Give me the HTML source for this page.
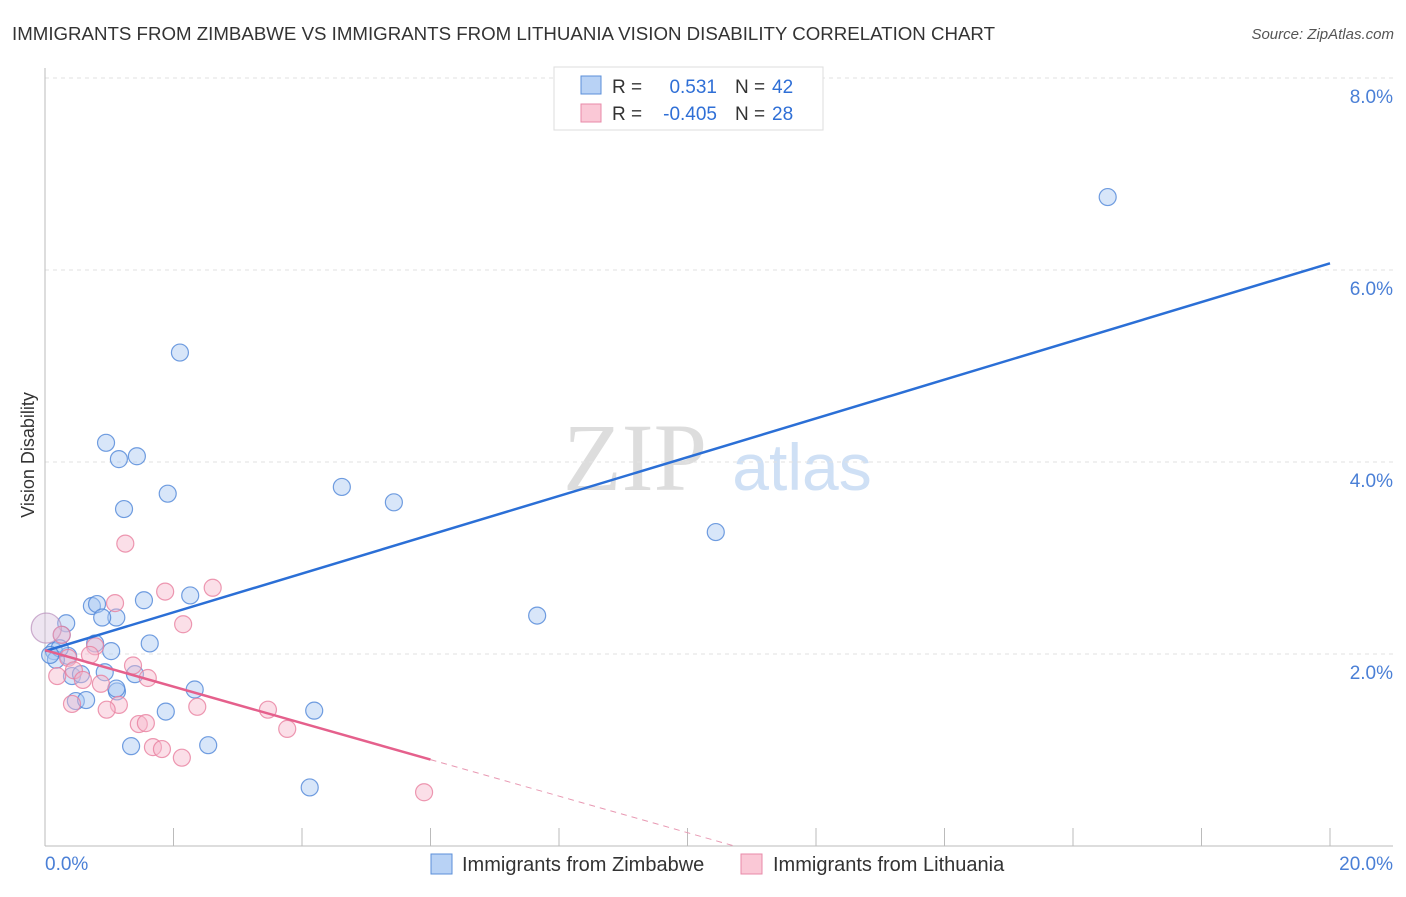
<!DOCTYPE html>
<html><head><meta charset="utf-8"><style>
body{margin:0;background:#fff;font-family:"Liberation Sans",sans-serif}
svg text{font-family:"Liberation Sans",sans-serif}
</style></head><body>
<svg id="c" width="1406" height="892">
<text x="12" y="40" font-size="18" fill="#333" textLength="983" lengthAdjust="spacingAndGlyphs">IMMIGRANTS FROM ZIMBABWE VS IMMIGRANTS FROM LITHUANIA VISION DISABILITY CORRELATION CHART</text>
<text x="1394" y="39" font-size="15" fill="#555" text-anchor="end" font-style="italic">Source: ZipAtlas.com</text>
<text x="635" y="490" font-size="96" fill="#ddd" text-anchor="middle" style="font-family:'Liberation Serif',serif">ZIP</text>
<text x="802" y="490" font-size="66" fill="#cfe0f5" text-anchor="middle">atlas</text>
<text x="34" y="455" font-size="18" fill="#333" text-anchor="middle" transform="rotate(-90 34 455)">Vision Disability</text>
<g id="grid"></g><g id="marks"></g>
<g>
<rect x="554" y="67" width="269" height="63" fill="#fff" stroke="#ddd"/>
<rect x="581" y="76" width="20" height="18" fill="#b8d2f5" stroke="#5b8fd9"/>
<rect x="581" y="104" width="20" height="18" fill="#fac8d6" stroke="#e88aa8"/>
<text x="612" y="93" font-size="19" fill="#333">R = </text><text x="717" y="93" font-size="19" fill="#2f6fd6" text-anchor="end">0.531</text>
<text x="735" y="93" font-size="19" fill="#333">N = </text><text x="772" y="93" font-size="19" fill="#2f6fd6">42</text>
<text x="612" y="120" font-size="19" fill="#333">R = </text><text x="717" y="120" font-size="19" fill="#2f6fd6" text-anchor="end">-0.405</text>
<text x="735" y="120" font-size="19" fill="#333">N = </text><text x="772" y="120" font-size="19" fill="#2f6fd6">28</text>
</g>
<g>
<rect x="431" y="854" width="21" height="20" fill="#b8d2f5" stroke="#5b8fd9"/>
<text x="462" y="871" font-size="20" fill="#333">Immigrants from Zimbabwe</text>
<rect x="741" y="854" width="21" height="20" fill="#fac8d6" stroke="#e88aa8"/>
<text x="773" y="871" font-size="20" fill="#333">Immigrants from Lithuania</text>
</g>
</svg>
<script>
const blueX=[16.54,2.10,0.95,1.43,1.15,1.91,1.23,4.62,5.43,10.44,7.66,1.54,2.26,0.73,0.81,1.11,0.89,0.33,0.26,0.02,0.78,1.63,1.03,0.14,0.36,0.17,0.93,0.42,0.56,1.40,1.12,1.11,2.33,0.48,0.64,1.88,4.19,1.34,2.54,4.12,0.23,0.08];
const blueY=[6.76,5.14,4.20,4.06,4.03,3.67,3.51,3.74,3.58,3.27,2.40,2.56,2.61,2.50,2.52,2.38,2.38,2.32,2.20,2.27,2.11,2.11,2.03,2.03,1.98,1.94,1.81,1.77,1.79,1.79,1.61,1.64,1.63,1.51,1.52,1.40,1.41,1.04,1.05,0.61,2.06,1.99];
const pinkX=[1.25,2.61,1.87,1.09,2.15,0.26,0.02,0.78,0.70,0.36,1.37,0.19,0.45,0.59,1.60,0.87,1.15,2.37,3.47,0.42,0.96,1.46,1.57,3.77,1.68,1.82,2.13,5.90];
const pinkY=[3.15,2.69,2.65,2.53,2.31,2.20,2.27,2.08,1.99,1.96,1.88,1.77,1.83,1.73,1.75,1.69,1.47,1.45,1.42,1.48,1.42,1.27,1.28,1.22,1.03,1.01,0.92,0.56];
const blueLine=[[0,2.03],[20,6.07]];
const pinkLine=[[0,2.04],[6.0,0.90]];
const pinkDash=[[6.0,0.90],[10.73,0]];
const yTicks=[2,4,6,8];
const xTicks=[0,2,4,6,8,10,12,14,16,18,20];
const X=v=>45+v/20*1285, Y=v=>846-v*96;
const NS='http://www.w3.org/2000/svg';
function mk(t,a,p){const e=document.createElementNS(NS,t);for(const k in a)e.setAttribute(k,a[k]);p.appendChild(e);return e;}
const g=document.getElementById('grid'),m=document.getElementById('marks');
yTicks.forEach(t=>{const l=mk('line',{x1:45,x2:1393,y1:Y(t),y2:Y(t),stroke:'#e2e2e2','stroke-dasharray':'4,4'},g);


const tx=mk('text',{x:1393,y:Y(t)+25,'font-size':19,fill:'#4a7fd6','text-anchor':'end'},g);tx.textContent=t.toFixed(1)+'%';

});
const ax=mk('line',{x1:45,x2:1393,y1:846,y2:846,stroke:'#bbb'},g);


const ay=mk('line',{x1:45,x2:45,y1:68,y2:846,stroke:'#bbb'},g);


xTicks.forEach(t=>{const l=mk('line',{x1:X(t),x2:X(t),y1:828,y2:846,stroke:'#bbb'},g);

});
[[0,'0.0%','start',45],[20,'20.0%','end',1393]].forEach(a=>{const tx=mk('text',{x:a[3],y:870,'font-size':19,fill:'#4a7fd6','text-anchor':a[2]},g);tx.textContent=a[1];

});
function pts(xs,ys,fill,stroke,name){xs.forEach((x,i)=>{const big=(x<0.05);const c=mk('circle',{cx:X(x),cy:Y(ys[i]),r:big?15:8.5,fill:fill,'fill-opacity':big?0.22:0.45,stroke:stroke,'stroke-width':1.2,'stroke-opacity':big?0.4:0.8},m);

});}
pts(blueX,blueY,'#a9c8f2','#4f86d8','zimbabwe-point');
pts(pinkX,pinkY,'#f7b8cb','#e8809f','lithuania-point');
function ln(d,col,w,dash,name){const l=mk('line',{x1:X(d[0][0]),y1:Y(d[0][1]),x2:X(d[1][0]),y2:Y(d[1][1]),stroke:col,'stroke-width':w},m);if(dash)l.setAttribute('stroke-dasharray',dash);

}
ln(blueLine,'#2b6fd6',2.5,null,'zimbabwe-trendline');
ln(pinkLine,'#e5608c',2.5,null,'lithuania-trendline');
ln(pinkDash,'#e898b2',1,'6,5','lithuania-trendline-extension');
</script>
</body></html>
